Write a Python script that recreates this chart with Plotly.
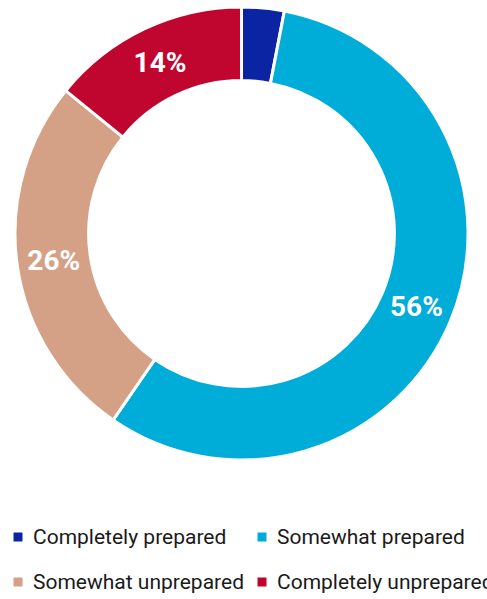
import plotly.graph_objects as go

categories = ["Completely prepared", "Somewhat prepared", "Somewhat unprepared", "Completely unprepared"]
values = [3, 56, 26, 14]
slice_labels = ["", "56%", "26%", "14%"]
colors = ["#0b24a4", "#00acd8", "#d4a186", "#c0062f"]

W, H = 487, 599
ML, MR, MT, MB = 15, 19, 7, 0
PW, PH = W - ML - MR, H - MT - MB

fig = go.Figure(go.Pie(
    labels=categories,
    values=values,
    text=slice_labels,
    textinfo="text",
    sort=False,
    direction="clockwise",
    rotation=0,
    hole=0.675,
    marker=dict(colors=colors, line=dict(color="white", width=3)),
    textposition="inside",
    insidetextorientation="horizontal",
    textfont=dict(family="Roboto", size=28, color="white", weight="bold"),
    domain=dict(x=[0, 1], y=[1 - 453 / PH, 1]),
    hoverinfo="label+percent",
    showlegend=False,
))

# manual two-column legend (pixel layout converted to paper coords)
legend_slots = [(18, 537), (262, 537), (18, 582), (262, 582)]
annotations = []
shapes = []
for name, col, (mx, my) in zip(categories, colors, legend_slots):
    px = (mx - ML) / PW
    py = (H - MB - my) / PH
    shapes.append(dict(
        type="rect", xref="paper", yref="paper",
        xsizemode="pixel", ysizemode="pixel",
        xanchor=px, yanchor=py,
        x0=-4.5, x1=4.5, y0=-4.5, y1=4.5,
        fillcolor=col, line=dict(width=0),
    ))
    annotations.append(dict(
        text=name, xref="paper", yref="paper",
        x=(mx + 13 - ML) / PW, y=py,
        xanchor="left", yanchor="middle",
        showarrow=False,
        font=dict(family="Roboto", size=21, color="#1a1a1a"),
    ))

fig.update_layout(
    width=W, height=H,
    margin=dict(l=ML, r=MR, t=MT, b=MB),
    paper_bgcolor="white",
    plot_bgcolor="white",
    showlegend=False,
    shapes=shapes,
    annotations=annotations,
)

fig.write_html(
    "out.html",
    config={"displayModeBar": False},
    post_script="document.body.style.margin='0px';",
)
